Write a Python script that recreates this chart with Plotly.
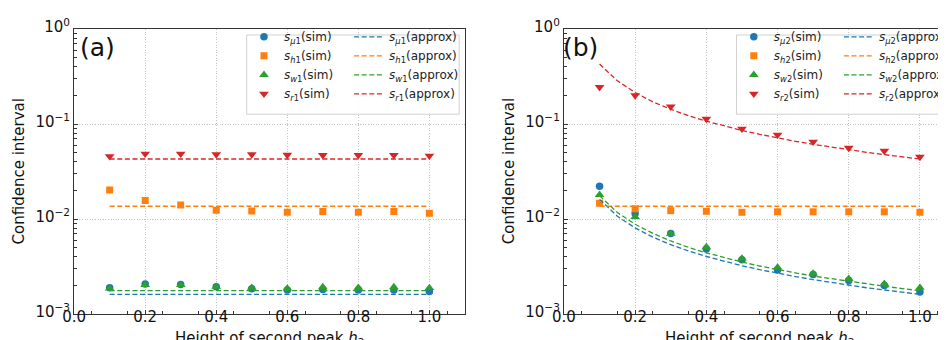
import plotly.graph_objects as go

# ---------------- data ----------------
h_sim = [0.1, 0.2, 0.3, 0.4, 0.5, 0.6, 0.7, 0.8, 0.9, 1.0]

# panel (a)
s_mu1_sim = [0.00189, 0.00207, 0.00205, 0.00194, 0.00184, 0.00179, 0.00181, 0.00179, 0.00179, 0.00173]
s_h1_sim = [0.0202, 0.0157, 0.0140, 0.01236, 0.01216, 0.01178, 0.0120, 0.0118, 0.0120, 0.01148]
s_w1_sim = [0.00186, 0.00202, 0.00202, 0.00194, 0.00189, 0.00186, 0.00192, 0.00189, 0.00192, 0.00188]
s_r1_sim = [0.0457, 0.0486, 0.0486, 0.0478, 0.0478, 0.0472, 0.0470, 0.0470, 0.0470, 0.0463]

h_line_a = [0.1, 1.0]
s_mu1_approx = [0.00161, 0.00161]
s_h1_approx = [0.01362, 0.01362]
s_w1_approx = [0.00176, 0.00176]
s_r1_approx = [0.0428, 0.0428]

# panel (b)
s_mu2_sim = [0.0221, 0.0114, 0.00703, 0.00482, 0.00372, 0.0029, 0.0026, 0.00225, 0.0020, 0.0017]
s_h2_sim = [0.01466, 0.0128, 0.01225, 0.01205, 0.01177, 0.0119, 0.0119, 0.0119, 0.0119, 0.01177]
s_w2_sim = [0.0180, 0.0105, 0.0070, 0.00506, 0.00384, 0.00309, 0.00267, 0.00235, 0.00208, 0.00189]
s_r2_sim = [0.244, 0.200, 0.152, 0.113, 0.089, 0.077, 0.065, 0.056, 0.052, 0.045]

h_line_b = [0.10, 0.15, 0.20, 0.25, 0.30, 0.35, 0.40, 0.45, 0.50, 0.55,
            0.60, 0.65, 0.70, 0.75, 0.80, 0.85, 0.90, 0.95, 1.00]
s_mu2_approx = [0.0161, 0.0107, 0.00805, 0.00644, 0.00537, 0.0046, 0.00403, 0.00358, 0.00322, 0.00293,
                0.00268, 0.00248, 0.0023, 0.00215, 0.00201, 0.00189, 0.00179, 0.0017, 0.00161]
s_h2_approx = [0.01362] * 19
s_w2_approx = [0.0176, 0.0117, 0.0088, 0.00704, 0.00587, 0.00503, 0.0044, 0.00391, 0.00352, 0.0032,
               0.00293, 0.00271, 0.00251, 0.00235, 0.0022, 0.00207, 0.00196, 0.00185, 0.00176]
s_r2_approx = [0.428, 0.285, 0.214, 0.171, 0.143, 0.122, 0.107, 0.095, 0.0856, 0.0778,
               0.0713, 0.0658, 0.0611, 0.0571, 0.0535, 0.0504, 0.0476, 0.0451, 0.0428]

y_tickvals = [0.001, 0.01, 0.1, 1]
y_ticktext = ["10<sup>−3</sup>", "10<sup>−2</sup>", "10<sup>−1</sup>", "10<sup>0</sup>"]
x_tickvals = [0.0, 0.2, 0.4, 0.6, 0.8, 1.0]
x_ticktext = ["0.0", "0.2", "0.4", "0.6", "0.8", "1.0"]

# ---------------- styling ----------------
W, H = 946, 340
FONT = "DejaVu Sans"
BLUE, ORANGE, GREEN, RED = "#1f77b4", "#ff7f0e", "#2ca02c", "#d62728"
DASH = "5px,2.6px"

fig = go.Figure()


def add_panel(idx, h_line, sims, approxs, labels, leg_sim, leg_app):
    xa = "x" if idx == 1 else "x2"
    ya = "y" if idx == 1 else "y2"
    colors = [BLUE, ORANGE, GREEN, RED]
    symbols = ["circle", "square", "triangle-up", "triangle-down"]
    sizes = [7.5, 7, 8.5, 8.5]
    for vals, col, sym, sz, lab in zip(sims, colors, symbols, sizes, labels):
        fig.add_trace(go.Scatter(
            x=h_sim, y=vals, mode="markers", xaxis=xa, yaxis=ya,
            marker=dict(color=col, symbol=sym, size=sz, line=dict(width=0)),
            name=lab + "(sim)", legend=leg_sim, showlegend=True))
    for vals, col, lab in zip(approxs, colors, labels):
        fig.add_trace(go.Scatter(
            x=h_line, y=vals, mode="lines", xaxis=xa, yaxis=ya,
            line=dict(color=col, width=1.3, dash=DASH),
            name=lab + "(approx)", legend=leg_app, showlegend=True))


lab_a = ["<i>s</i><sub><i>μ</i>1</sub>", "<i>s</i><sub><i>h</i>1</sub>",
         "<i>s</i><sub><i>w</i>1</sub>", "<i>s</i><sub><i>r</i>1</sub>"]
lab_b = ["<i>s</i><sub><i>μ</i>2</sub>", "<i>s</i><sub><i>h</i>2</sub>",
         "<i>s</i><sub><i>w</i>2</sub>", "<i>s</i><sub><i>r</i>2</sub>"]

add_panel(1, h_line_a,
          [s_mu1_sim, s_h1_sim, s_w1_sim, s_r1_sim],
          [s_mu1_approx, s_h1_approx, s_w1_approx, s_r1_approx],
          lab_a, "legend", "legend2")
add_panel(2, h_line_b,
          [s_mu2_sim, s_h2_sim, s_w2_sim, s_r2_sim],
          [s_mu2_approx, s_h2_approx, s_w2_approx, s_r2_approx],
          lab_b, "legend3", "legend4")

# geometry (pixels)
ML, MR, MT, MB = 0, 0, 20.7, 34
plot_h = H - MT - MB
ax_a = (66.7, 460.8)
ax_b = (560.7, 946.0)
OFF = ax_b[0] - ax_a[0]


def px(xp):
    return xp / W


def py(yp):
    return (H - MB - yp) / plot_h


minor_y = [k * 10 ** e for e in (-3, -2, -1) for k in range(2, 10)]
minor_x = [round(0.05 + 0.1 * i, 2) for i in range(11)]

axis_common = dict(
    showline=True, linecolor="#333333", linewidth=1.2,
    ticks="inside", ticklen=4, tickwidth=1, tickcolor="#333333",
    showgrid=True, gridcolor="#c4c4c4", gridwidth=0.8, griddash="1px,1.6px",
    zeroline=False, automargin=False,
    tickfont=dict(family=FONT, size=15, color="#111111"),
)
minor_common = dict(ticks="inside", ticklen=2.5, tickcolor="#333333", showgrid=False)

fig.update_layout(
    xaxis=dict(domain=[px(ax_a[0]), px(ax_a[1])], range=[0, 1.1],
               tickvals=x_tickvals, ticktext=x_ticktext, ticklabelstandoff=-11,
               minor=dict(tickvals=minor_x, **minor_common),
               anchor="y", mirror=True, **axis_common),
    yaxis=dict(domain=[0, 1], type="log", range=[-3, 0],
               tickvals=y_tickvals, ticktext=y_ticktext, ticklabelshift=-2,
               minor=dict(tickvals=minor_y, **minor_common),
               anchor="x", mirror=True, **axis_common),
    xaxis2=dict(domain=[px(ax_b[0]), 1.0], range=[0, (ax_b[1] - ax_b[0]) / 359.0],
                tickvals=x_tickvals, ticktext=x_ticktext, ticklabelstandoff=-11,
                minor=dict(tickvals=minor_x, **minor_common),
                anchor="y2", mirror=True, **axis_common),
    yaxis2=dict(domain=[0, 1], type="log", range=[-3, 0],
                tickvals=y_tickvals, ticktext=y_ticktext, ticklabelshift=-2,
                minor=dict(tickvals=minor_y, **minor_common),
                anchor="x2", mirror=False, **axis_common),
)

# legend frames
for off in (0, OFF):
    fig.add_shape(type="rect", xref="paper", yref="paper", layer="above",
                  x0=px(240.7 + off), x1=px(min(455 + off, 945.5)),
                  y0=py(106), y1=py(26.7),
                  line=dict(color="#d0d0d0", width=1), fillcolor="rgba(255,255,255,0.85)")

leg_common = dict(xanchor="left", yanchor="top", bgcolor="rgba(0,0,0,0)", borderwidth=0,
                  font=dict(family=FONT, size=12, color="#222222"),
                  itemwidth=30, tracegroupgap=0, orientation="v")
LEG_TOP = 14
fig.update_layout(
    legend=dict(x=px(238), y=py(LEG_TOP), **leg_common),
    legend2=dict(x=px(344), y=py(LEG_TOP), **leg_common),
    legend3=dict(x=px(238 + OFF), y=py(LEG_TOP), **leg_common),
    legend4=dict(x=px(344 + OFF), y=py(LEG_TOP), **leg_common),
)

# panel labels and axis titles
ann = []
ann.append(dict(text="(a)", x=px(90), y=py(39), xref="paper", yref="paper",
                xanchor="center", yanchor="middle", showarrow=False,
                font=dict(family=FONT, size=25, color="#111111")))
ann.append(dict(text="(b)", x=px(577), y=py(39), xref="paper", yref="paper",
                xanchor="center", yanchor="middle", showarrow=False,
                font=dict(family=FONT, size=25, color="#111111")))
for xc in (11, 11 + OFF):
    ann.append(dict(text="Confidence interval", x=px(xc), y=0.5, xref="paper", yref="paper",
                    xanchor="center", yanchor="middle", textangle=-90, showarrow=False,
                    font=dict(family=FONT, size=15, color="#111111")))
for xc in ((ax_a[0] + ax_a[1]) / 2, (ax_a[0] + ax_a[1]) / 2 + OFF):
    ann.append(dict(text="Height of second peak <i>h</i><sub>2</sub>", x=px(xc), y=py(319),
                    xref="paper", yref="paper", xanchor="center", yanchor="top", showarrow=False,
                    font=dict(family=FONT, size=15, color="#111111")))

fig.update_layout(
    annotations=ann,
    width=W, height=H,
    margin=dict(l=ML, r=MR, t=MT, b=MB, pad=0),
    paper_bgcolor="white", plot_bgcolor="white",
    font=dict(family=FONT),
)

fig.write_html("out.html")
